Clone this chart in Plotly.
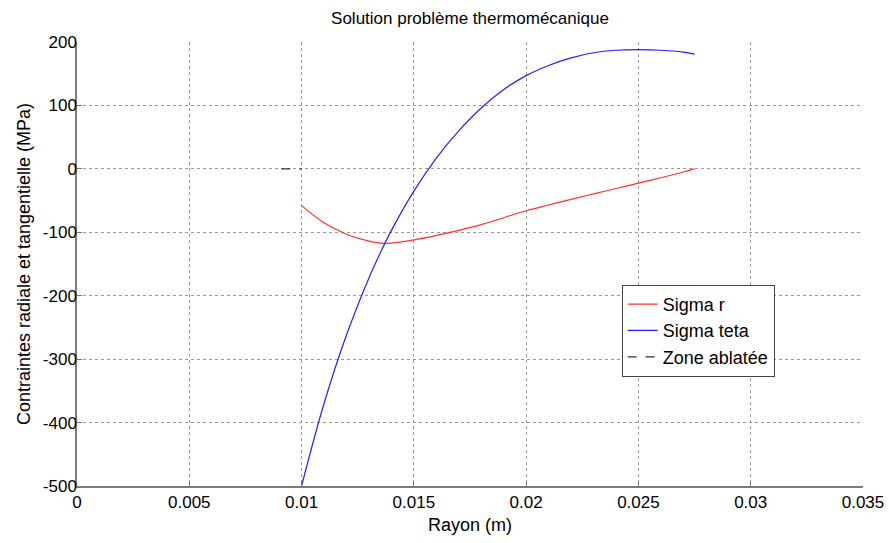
import plotly.graph_objects as go

# rayon (m)
rayon = [0.010, 0.011, 0.012, 0.013, 0.0135, 0.014, 0.015, 0.016, 0.017, 0.018,
         0.019, 0.020, 0.021, 0.022, 0.023, 0.024, 0.025, 0.026, 0.027, 0.0275]
sigma_r = [-58, -85, -103, -114, -117, -117, -112, -105, -97, -88,
           -77, -66, -57, -48, -39.5, -31, -22.5, -14, -5, 0]
sigma_teta = [-500, -370, -262, -172, -133, -97, -35, 17, 60, 96,
              125, 147, 163, 175, 183, 187, 188, 187, 184, 181]
zone_x = [0.0091, 0.0100]
zone_y = [0, 0]

y_ticks = [-500, -400, -300, -200, -100, 0, 100, 200]
y_ticktext = ["-500", "-400", "-300", "-200", "-100", "0", "100", "200"]

font = "Liberation Sans, Arial, sans-serif"

fig = go.Figure()
fig.add_trace(go.Scatter(x=rayon, y=sigma_r, mode="lines", name="Sigma r",
                         line=dict(color="#ff3030", width=1.2, shape="spline")))
fig.add_trace(go.Scatter(x=rayon, y=sigma_teta, mode="lines", name="Sigma teta",
                         line=dict(color="#2020ff", width=1.2, shape="spline")))
fig.add_trace(go.Scatter(x=zone_x, y=zone_y, mode="lines", name="Zone ablatée",
                         line=dict(color="#333333", width=1.2, dash="dash")))

axis_common = dict(showgrid=True, gridcolor="#999999", griddash="dot", gridwidth=1,
                   showline=True, linecolor="#7a7a7a", linewidth=1.5,
                   ticks="inside", ticklen=5, tickcolor="#7a7a7a",
                   zeroline=False, mirror=False, automargin=False,
                   tickfont=dict(family=font, size=17, color="#000"))

fig.update_layout(
    width=889, height=543,
    paper_bgcolor="white", plot_bgcolor="white",
    margin=dict(l=77, r=26, t=42, b=57),
    title=dict(text="Solution problème thermomécanique", x=0.5, xanchor="center",
               xref="paper", y=0.967, yanchor="middle",
               font=dict(family=font, size=17, color="#000")),
    xaxis=dict(range=[0, 0.035], dtick=0.005, tickformat="~g",
               title=dict(text="Rayon (m)", standoff=7,
                          font=dict(family=font, size=18, color="#000")),
               **axis_common),
    yaxis=dict(range=[-500, 200], tickvals=y_ticks, ticktext=y_ticktext,
               ticklabelstandoff=-5,
               title=dict(text="Contraintes radiale et tangentielle (MPa)", standoff=8,
                          font=dict(family=font, size=18, color="#000")),
               **axis_common),
    legend=dict(x=0.693, y=0.453, xanchor="left", yanchor="top",
                bgcolor="white", bordercolor="#444", borderwidth=1,
                font=dict(family=font, size=18, color="#000"),
                tracegroupgap=0, itemwidth=30),
    showlegend=True,
)

# drop the default body margin so the figure fills the window
fig.write_html("out.html", config={"displayModeBar": False},
               post_script="document.body.style.margin='0';document.body.style.overflow='hidden';")
